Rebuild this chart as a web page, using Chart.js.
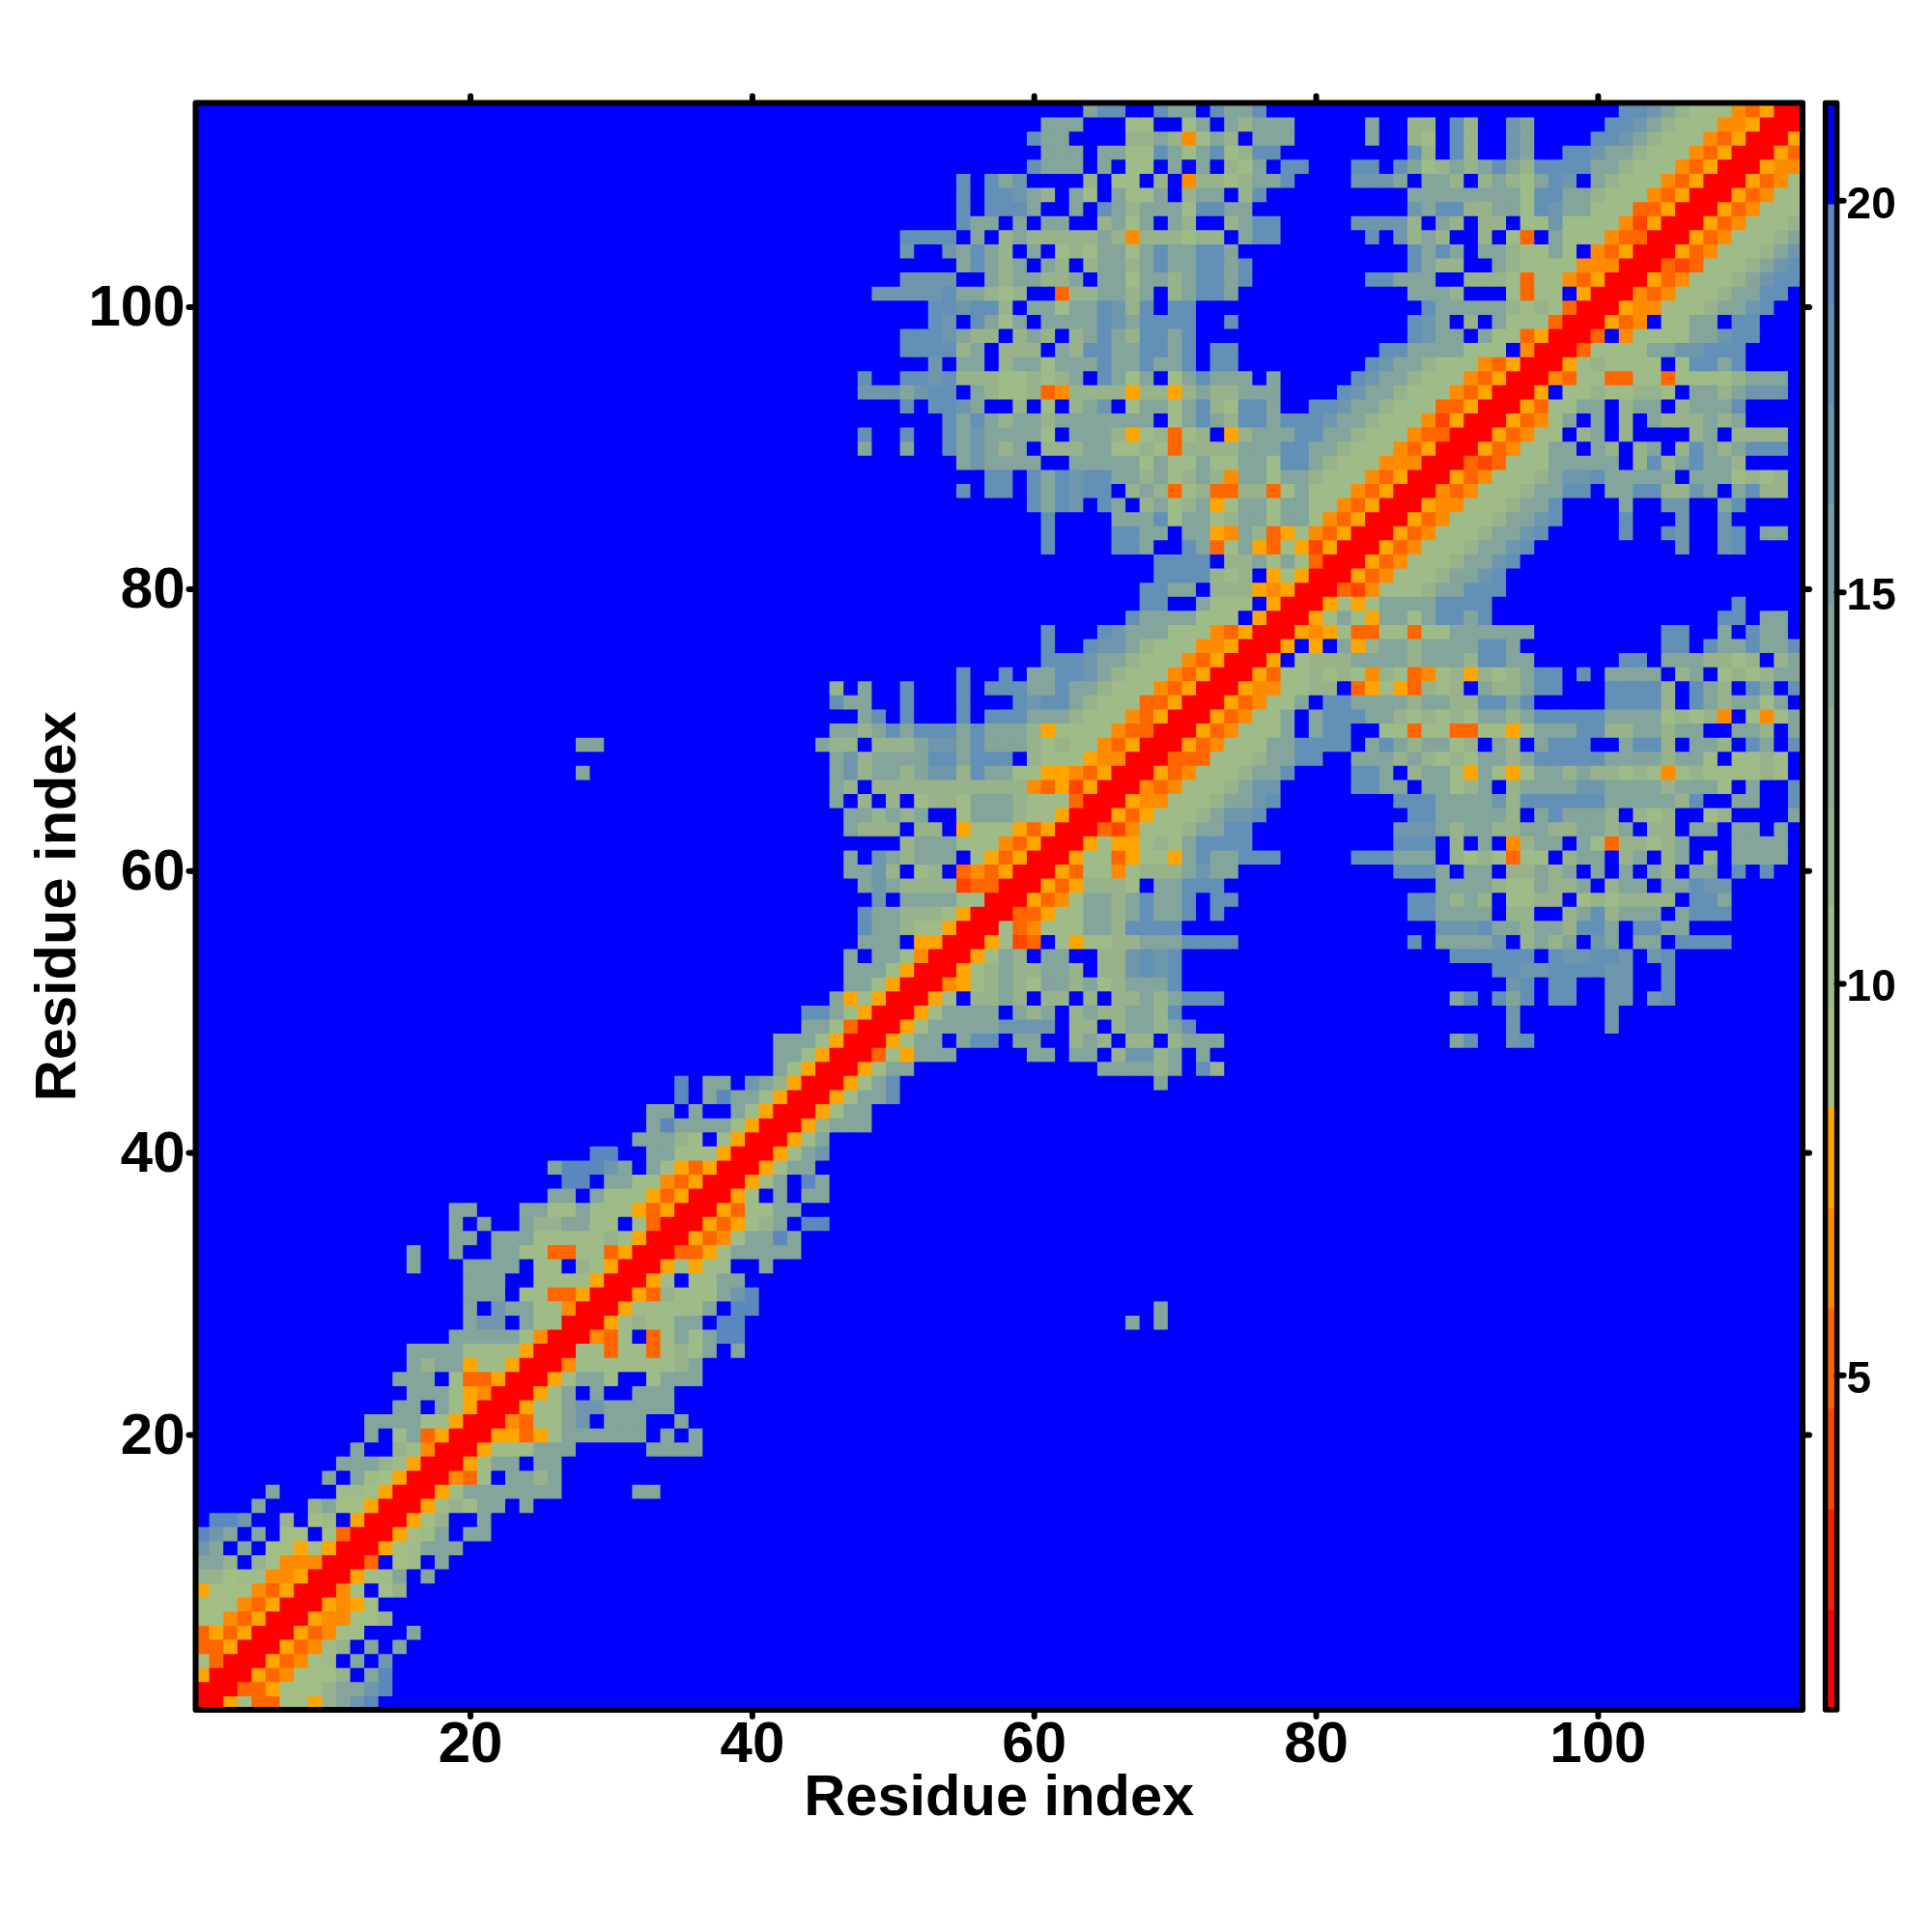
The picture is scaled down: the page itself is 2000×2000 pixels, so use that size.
<!DOCTYPE html>
<html>
<head>
<meta charset="utf-8">
<title>Residue index map</title>
<script src="https://cdn.jsdelivr.net/npm/chart.js@4"></script>
<style>
    html, body { margin: 0; padding: 0; background: #ffffff; }
    #wrap { position: relative; width: 2000px; height: 2000px; }
    #mapChart { position: absolute; left: 0; top: 0; }
    #barChart { position: absolute; left: 1870px; top: 0; }
</style>
</head>
<body>
<div id="wrap">
    <canvas id="mapChart" width="2000" height="2000"></canvas>
    <canvas id="barChart" width="130" height="2000"></canvas>
</div>
<script>
// Residue numbers on the map
var residueCount = 114;
var residueTicks = [20, 40, 60, 80, 100];
var barTicks = [5, 10, 15, 20];

// Colour bands of the scale, digit 0..e of the rows below, f (or '.') is the top band
var bandColors = ['#ff0000', '#ff2000', '#ff4500', '#ff6600', '#ff8c00', '#ffa500',
    '#a2be84', '#9fbb88', '#98b38c', '#8fad92', '#84a59b', '#79a0a6', '#6e97ae', '#6390b7', '#5b88bf', '#0000ff'];
var bandEdges = [0.73, 2.01, 3.30, 4.58, 5.86, 7.14, 8.43, 9.71, 10.99, 12.27, 13.55, 14.84, 16.12, 17.40, 18.68, 19.96, 21.25];

// One string per residue y, first char is x = y. The map is symmetric. Short rows end in top band.
var upperRows = [
    "0056336658ace",
    "003356668aace",
    "005346668.ae",
    "0053467.a.c",
    "0053478.a.a",
    "0053466...a",
    "00544668",
    "005456",
    "0046.68",
    "00567a.a",
    "003.67.a",
    "00567aaa",
    "00567a.aa",
    "00568..a",
    "005787aa.a",
    "0057aaaaaaa.....aa",
    "00437.aa8a",
    "0057aa.aa",
    "005777aaa.....aaaa",
    "0055357aaaaaa.a.a",
    "004377ac.aaa..a",
    "00577accaaaaa",
    "0057a.a..aaa",
    "0057aa7..7aaa",
    "00477777778a",
    "00773773787a.a",
    "00437.37a7aee",
    "0057877aa.ee...........................a.a",
    "00577777a.ee............................a",
    "00538777ace",
    "0057.77aa",
    "0057577..a",
    "003357aaaaa",
    "005347aaea",
    "0053578a.ee",
    "005377aa",
    "0057.a.aa",
    "0057a.ea",
    "0057aa",
    "0057ac",
    "0057a",
    "0058aaa",
    "0057aa",
    "0057aad",
    "0057ad..................a",
    "0057aa.............aaaa8a.d8",
    "00375aaa.....aa.aa.8cc8a.a",
    "0057aa.add.aa..8a8.88.8aaa................ad..cd",
    "0057aaaaacccc.88.8aa8ad......................c......c",
    "0057aaaa.a8a.8a88aa8d.......................c......c",
    "0057.88a8.88.8.88a8addd................ad.dad.dd..cc.cd",
    "004578a87aa8a78aaad.......................cd.dd..cc..d",
    "00578a88aa8.88cdcd......................ddccddddcc..d",
    "0057a8.aa..88cdcd...................dddddd.dccddc.cd",
    "005723.757788aaadddd............d.aaaac.8a8a.ca.aa.dddd",
    "00734777aa8dddd..................cccdaa8aa8dda.ddaa",
    "0033577aa8adaad.d.............ddaaaa.88..8ad8aaa.addd",
    "005347aa8adaad.dd............dda8a8.7788.7878888.dda",
    "005358887.aaddd...............aaaa877a88a.8aa.aadcc",
    "00537747888acaa...........ddda.aa.88a8a.a.a.a8.aa.d.d",
    "0057735775adaaddd.....dddaaa.8787377.8aa.8a.8a.8.aaaa",
    "005755787adddd..........ddd.8.a.48aa.a738878a...aaaa",
    "003247778aadd..........ccca8aa88aa88aa8a.88.aa.aa.a",
    "005357778accd..........ddaaaaa8.adaaa8.878..78....a",
    "005447778aacd........dddaaaac8ddddddaaaaa8d..aa..d",
    "004347778acc.....ddaa.aa78a.8aaaaccaaaa8aaa7.a..d",
    "005347778aad....dda.8aa75a757aa8a88787478777787",
    "003337778aadd..aaa8a8787aa8adddddaaaa8aa7.7787",
    "00534777aadddd.ada8aa78.a8.addd..add8.aa8.da.d",
    "00534777a.add..77377337757aaadd88aa8aa..aa8.a",
    "0053477a.adddaa878787aa8adddddaaaa78784.747a",
    "0053477a.ddaaaa8aa88ddad.....dddd8.da8aa7a.",
    "005447788.35753878.a88add...dddd8.da8.da.d",
    "005377878748734785878add.d.aaaa.8a.7878aa",
    "005.7888aaaa8aaa8ddaa......dd.aaa8878.8a",
    "005.5.a58aa8aaaadda..........dd.daadaad",
    "0054573377377aaaaaa.........dd..a.daa",
    "0057a75aa7addad................dd.aa",
    "005757aaaadddd.................d",
    "003247778aaddd",
    "005347778aacd",
    "005347778aacd",
    "005347778aacd..........c..cd",
    "005347778aacd.....d..dc..cd.aa",
    "005347778aacd....d...c..c",
    "005447778aad....a..cc..ad",
    "004347778aadd.aadd88ca.ad88",
    "005347778accdaaaaa.aaa7878",
    "00323777aaaaa.8d8adaa8",
    "0053477aa.a8.8a.8da8addd",
    "0053477.8a.8....8a.8888",
    "005347a.a.8.a888a8a",
    "005377aa.8aa.8aaad",
    "005.77877887.aa8accc",
    "0043773377377778aaa",
    "005787777.7ddad",
    "0037777aaccddd",
    "003.47777aacdd",
    "00534.77aa.dd",
    "005447778aacd",
    "004347778aadd",
    "005347778acdd",
    "003237778acd",
    "005347778ac",
    "005347778a",
    "005347778",
    "00534777",
    "0053477",
    "005347",
    "00544",
    "0053",
    "005",
    "00",
    "0"
];

function bandAt(x, y) {
    var low = Math.min(x, y);
    var ch = upperRows[low - 1].charAt(Math.abs(x - y));
    return (ch === '' || ch === '.') ? 15 : parseInt(ch, 16);
}

var cellData = [];
var cellColors = [];
for (var y = 1; y <= residueCount; y++) {
    for (var x = 1; x <= residueCount; x++) {
        cellData.push({ x: x, y: [y - 0.5, y + 0.5] });
        cellColors.push(bandColors[bandAt(x, y)]);
    }
}

var fontFamily = '"Liberation Sans", Arial, sans-serif';

// Thick frame and round tick marks, tick labels nudged down a little like the original
var frameTicks = {
    id: 'frameTicks',
    beforeDraw: function (chart) {
        var scale = chart.scales.y;
        var shift = chart.options.labelShift;
        scale.getLabelItems().forEach(function (item) {
            if (!item.shifted) {
                item.options.translation[1] += shift;
                item.shifted = true;
            }
        });
    },
    beforeDatasetsDraw: function (chart) {
        var area = chart.chartArea;
        chart.ctx.save();
        chart.ctx.fillStyle = bandColors[bandColors.length - 1];
        chart.ctx.fillRect(area.left, area.top, area.right - area.left, area.bottom - area.top);
        chart.ctx.restore();
    },
    afterDraw: function (chart) {
        var ctx = chart.ctx;
        var area = chart.chartArea;
        var sides = chart.options.frameSides;
        ctx.save();
        ctx.strokeStyle = '#000000';
        ctx.lineJoin = 'round';
        ctx.lineCap = 'round';
        ctx.lineWidth = chart.options.frameWidth;
        ctx.strokeRect(area.left, area.top, area.right - area.left, area.bottom - area.top);
        ctx.lineWidth = 6;
        var len = 7;
        sides.forEach(function (side) {
            var horizontal = side === 'top' || side === 'bottom';
            var scale = horizontal ? chart.scales.x : chart.scales.y;
            chart.options.frameTickValues.forEach(function (v) {
                var p = scale.getPixelForValue(v);
                ctx.beginPath();
                if (side === 'top') { ctx.moveTo(p, area.top); ctx.lineTo(p, area.top - len); }
                if (side === 'bottom') { ctx.moveTo(p, area.bottom); ctx.lineTo(p, area.bottom + len); }
                if (side === 'left') { ctx.moveTo(area.left, p); ctx.lineTo(area.left - len, p); }
                if (side === 'right') { ctx.moveTo(area.right, p); ctx.lineTo(area.right + len, p); }
                ctx.stroke();
            });
        });
        ctx.restore();
    }
};

var useTicks = function (values) {
    return function (scale) {
        scale.ticks = values.map(function (v) { return { value: v }; });
    };
};

new Chart(document.getElementById('mapChart').getContext('2d'), {
    type: 'bar',
    data: {
        datasets: [{
            data: cellData,
            backgroundColor: cellColors,
            borderWidth: 0,
            inflateAmount: 0.5,
            barPercentage: 1,
            categoryPercentage: 1
        }]
    },
    options: {
        responsive: false,
        animation: false,
        devicePixelRatio: 1,
        frameSides: ['top', 'bottom', 'left', 'right'],
        frameTickValues: residueTicks,
        frameWidth: 6,
        labelShift: 2.5,
        layout: { padding: { top: 106.5, right: 134, left: 0, bottom: 0 } },
        plugins: { legend: { display: false }, tooltip: { enabled: false } },
        scales: {
            x: {
                type: 'linear',
                offset: false,
                min: 0.5,
                max: residueCount + 0.5,
                grid: { display: false, drawTicks: false, offset: false },
                border: { display: false },
                afterBuildTicks: useTicks(residueTicks),
                afterFit: function (s) { s.height = 230; },
                ticks: {
                    maxRotation: 0,
                    autoSkip: false,
                    padding: 1,
                    color: '#000000',
                    font: { family: fontFamily, size: 60, weight: 'bold' }
                },
                title: {
                    display: true,
                    text: 'Residue index',
                    color: '#000000',
                    padding: { top: 0, bottom: 102 },
                    font: { family: fontFamily, size: 59.6, weight: 'bold' }
                }
            },
            y: {
                type: 'linear',
                min: 0.5,
                max: residueCount + 0.5,
                grid: { display: false, drawTicks: false },
                border: { display: false },
                afterBuildTicks: useTicks(residueTicks),
                afterFit: function (s) { s.width = 202.5; },
                ticks: {
                    autoSkip: false,
                    padding: 11,
                    color: '#000000',
                    font: { family: fontFamily, size: 60, weight: 'bold' }
                },
                title: {
                    display: true,
                    text: 'Residue index',
                    color: '#000000',
                    padding: { top: 26, bottom: 0 },
                    font: { family: fontFamily, size: 59.6, weight: 'bold' }
                }
            }
        }
    },
    plugins: [frameTicks]
});

// Colour bar on the right
var barSpans = [];
for (var i = 0; i < bandColors.length; i++) {
    barSpans.push({ x: 'band', y: [bandEdges[i], bandEdges[i + 1]] });
}

new Chart(document.getElementById('barChart').getContext('2d'), {
    type: 'bar',
    data: {
        labels: ['band'],
        datasets: [{
            data: barSpans,
            backgroundColor: bandColors,
            borderWidth: 0,
            barPercentage: 1,
            categoryPercentage: 1
        }]
    },
    options: {
        responsive: false,
        animation: false,
        devicePixelRatio: 1,
        frameSides: ['right'],
        frameTickValues: barTicks,
        frameWidth: 5.5,
        labelShift: 5,
        layout: { padding: { top: 106.5, left: 19.6, right: 0, bottom: 230 } },
        plugins: { legend: { display: false }, tooltip: { enabled: false } },
        scales: {
            x: { display: false },
            y: {
                type: 'linear',
                position: 'right',
                min: bandEdges[0],
                max: bandEdges[bandEdges.length - 1],
                grid: { display: false, drawTicks: false },
                border: { display: false },
                afterBuildTicks: useTicks(barTicks),
                afterFit: function (s) { s.width = 98.4; },
                ticks: {
                    autoSkip: false,
                    padding: 10,
                    color: '#000000',
                    font: { family: fontFamily, size: 46, weight: 'bold' }
                }
            }
        }
    },
    plugins: [frameTicks]
});
</script>
</body>
</html>
